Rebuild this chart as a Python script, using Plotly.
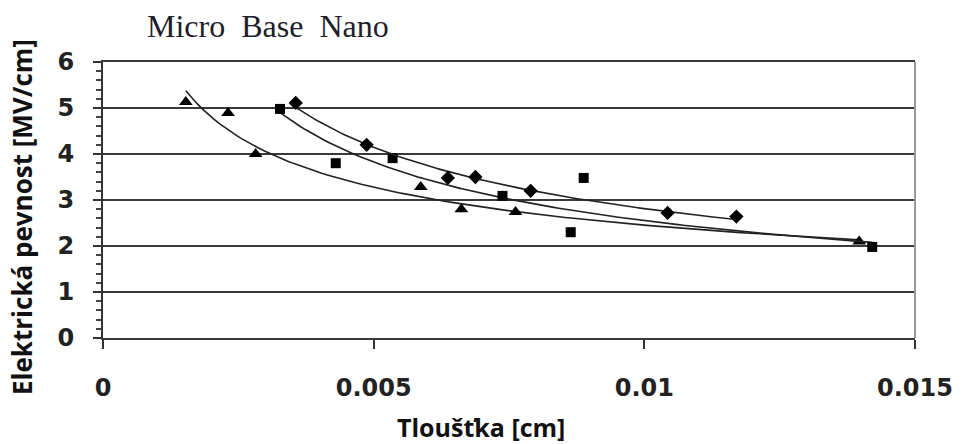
import numpy as np
import plotly.graph_objects as go

# Sample thickness [cm] and dielectric strength [MV/cm] for each material
tri_x = [0.00153, 0.00231, 0.00282, 0.00587, 0.00662, 0.00762, 0.01397]
tri_y = [5.13, 4.89, 4.00, 3.28, 2.80, 2.74, 2.10]

sq_x = [0.00327, 0.00430, 0.00535, 0.00738, 0.00864, 0.00888, 0.01421]
sq_y = [4.98, 3.80, 3.91, 3.09, 2.30, 3.48, 1.98]

dia_x = [0.00356, 0.00487, 0.00637, 0.00688, 0.00790, 0.01043, 0.01170]
dia_y = [5.11, 4.20, 3.48, 3.50, 3.20, 2.72, 2.64]

x_ticks = [0, 0.005, 0.01, 0.015]
x_tick_text = ["0", "0.005", "0.01", "0.015"]

TITLE = "Micro\u00a0\u00a0Base\u00a0\u00a0Nano"
X_TITLE = "Tloušťka [cm]"
Y_TITLE = "Elektrická pevnost [MV/cm]"

series = [
    (tri_x, tri_y, "triangle-up", 12),
    (sq_x, sq_y, "square", 10),
    (dia_x, dia_y, "diamond", 11),
]


def power_trend(xs, ys, n=120):
    """Least-squares power-law trendline y = a * x^b over the data range."""
    lx, ly = np.log(xs), np.log(ys)
    b, ln_a = np.polyfit(lx, ly, 1)
    xx = np.linspace(min(xs), max(xs), n)
    return xx, np.exp(ln_a) * xx ** b


fig = go.Figure()

for xs, ys, sym, size in series:
    tx, ty = power_trend(xs, ys)
    fig.add_trace(go.Scatter(x=tx, y=ty, mode="lines",
                             line=dict(color="#222222", width=1.6),
                             hoverinfo="skip", showlegend=False))
    fig.add_trace(go.Scatter(x=xs, y=ys, mode="markers",
                             marker=dict(symbol=sym, size=size, color="black"),
                             showlegend=False))

tick_font = dict(family="DejaVu Sans", size=24, color="#222222", weight="bold")

fig.update_layout(
    width=965, height=444,
    margin=dict(l=103, r=48, t=62, b=106),
    paper_bgcolor="white", plot_bgcolor="white",
    showlegend=False,
    xaxis=dict(
        range=[0, 0.015], tickvals=x_ticks, ticktext=x_tick_text,
        showgrid=False, zeroline=False,
        showline=True, mirror=True, linecolor="#3a3a3a", linewidth=2,
        ticks="outside", ticklen=9, tickwidth=2, tickcolor="#333333",
        tickfont=tick_font, ticklabelstandoff=18,
    ),
    yaxis=dict(
        range=[0, 6], tick0=0, dtick=1,
        showgrid=True, gridcolor="#3a3a3a", gridwidth=2,
        zeroline=False,
        showline=True, linecolor="#333333", linewidth=2,
        ticks="outside", ticklen=8, tickwidth=2, tickcolor="#333333",
        minor=dict(dtick=0.2, ticks="outside", ticklen=5, tickcolor="#444444",
                   tickwidth=1.5, showgrid=False),
        tickfont=tick_font, ticklabelstandoff=14,
    ),
    shapes=[
        dict(type="line", xref="paper", yref="paper", x0=1, x1=1, y0=0, y1=1,
             line=dict(color="#9a9a9a", width=2)),
    ],
    annotations=[
        dict(text=TITLE, xref="paper", yref="paper", x=(145 - 103) / 814, y=1,
             xanchor="left", yanchor="bottom", yshift=16, showarrow=False,
             font=dict(family="Liberation Serif", size=32, color="#1e1e2a")),
        dict(text=X_TITLE, xref="paper", yref="paper", x=(482 - 103) / 814, y=0,
             xanchor="center", yanchor="top", yshift=-70, showarrow=False,
             font=dict(family="Open Sans", size=25, color="#111111", weight="bold")),
        dict(text=Y_TITLE, xref="paper", yref="paper", x=0, y=(338 - 217) / 276,
             xanchor="center", yanchor="middle", xshift=-81, textangle=-90, showarrow=False,
             font=dict(family="Open Sans", size=26, color="#111111", weight="bold")),
    ],
)

fig.write_html("out.html")
